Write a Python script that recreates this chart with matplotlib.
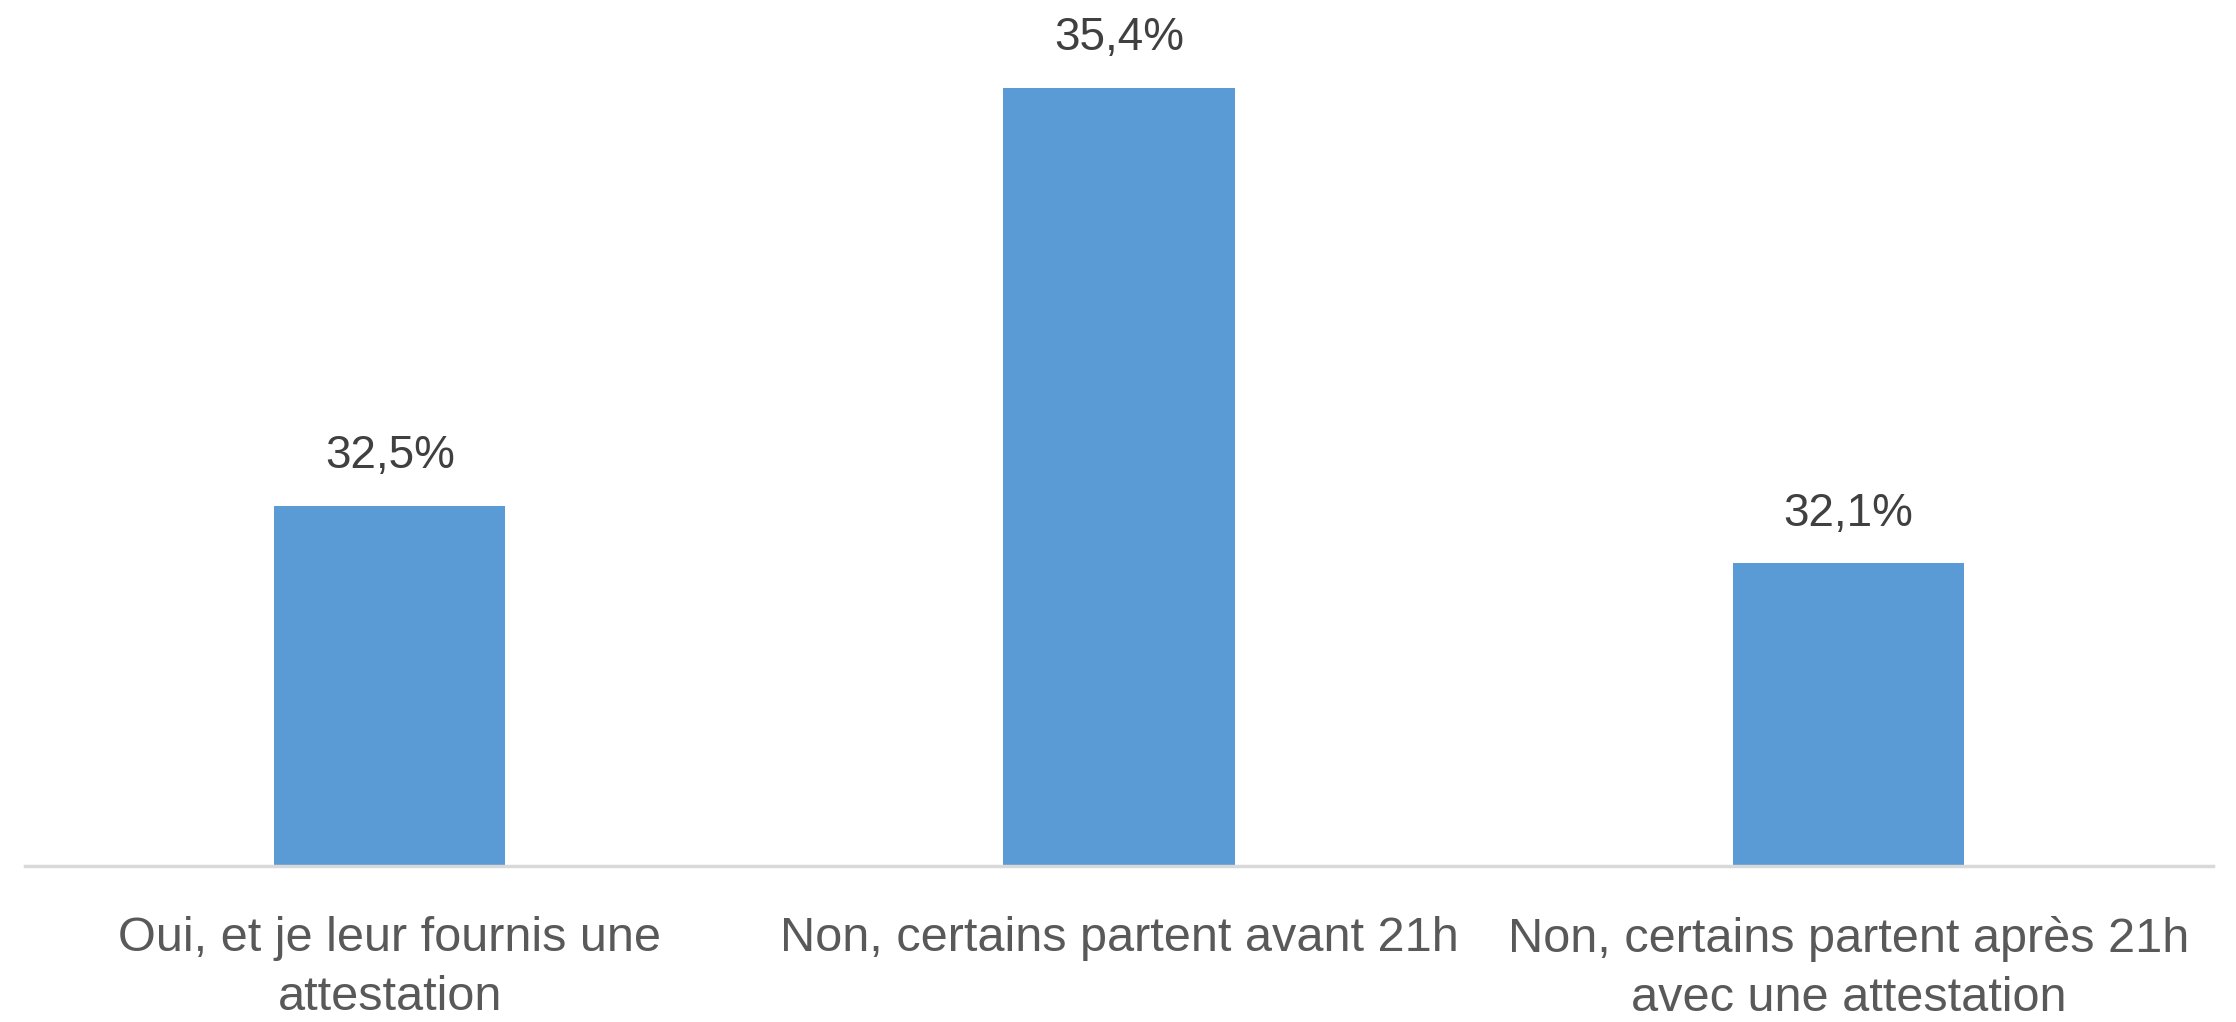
import matplotlib
matplotlib.use("Agg")
import matplotlib.pyplot as plt

categories = ["Oui, et je leur fournis une\nattestation",
              "Non, certains partent avant 21h",
              "Non, certains partent après 21h\navec une attestation"]
values = [32.5, 35.4, 32.1]
value_labels = ["32,5%", "35,4%", "32,1%"]

plt.rcParams['font.family'] = ['Liberation Sans', 'DejaVu Sans']

fig = plt.figure(figsize=(22.36, 10.22), dpi=100)
ax = fig.add_axes([0.0112, 0.1526, 0.9785, 0.846])
x = list(range(len(categories)))
bars = ax.bar(x, values, width=0.317, color="#5B9BD5", bottom=0)
ax.set_ylim(30, 36)
ax.set_xlim(-0.5, 2.5)

for xi, v, lab in zip(x, values, value_labels):
    ax.annotate(lab, (xi, v), xytext=(0, 27), textcoords="offset points",
                ha="center", va="baseline", fontsize=33, color="#404040")

ax.set_xticks(x)
ax.set_xticklabels(categories, fontsize=35, color="#595959", linespacing=1.4)
ax.tick_params(axis='x', length=0, pad=36)
ax.set_yticks([])
for s in ["top", "right", "left"]:
    ax.spines[s].set_visible(False)
ax.spines["bottom"].set_color("#d9d9d9")
ax.spines["bottom"].set_linewidth(2.5)

fig.savefig("out.png", dpi=100, facecolor="white")
